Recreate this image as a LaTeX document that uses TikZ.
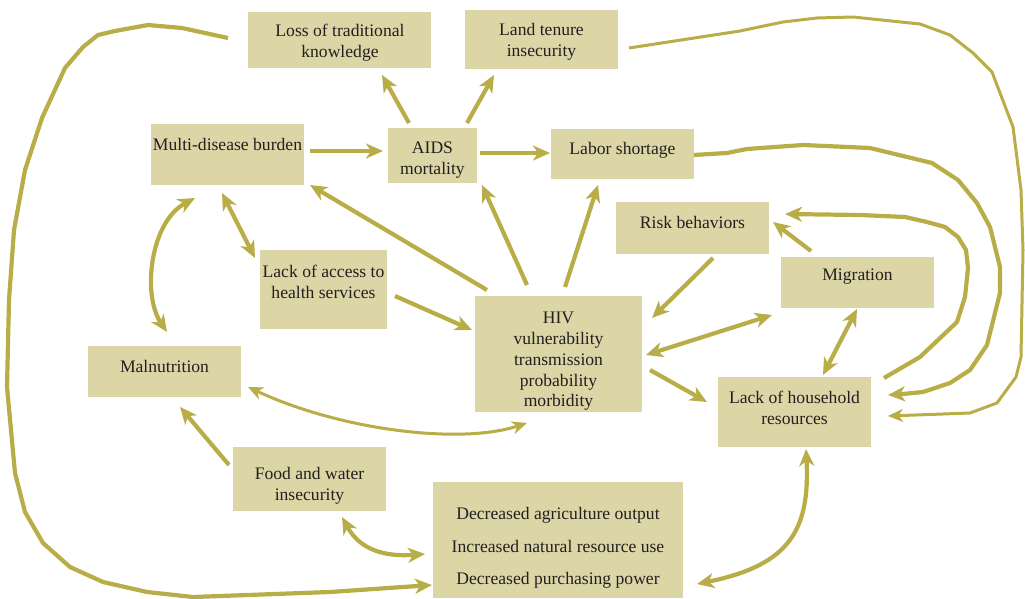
\documentclass[tikz,border=0pt]{standalone}
\usepackage{fontspec}
\setmainfont{Liberation Serif}
\usetikzlibrary{arrows.meta,calc}
\definecolor{boxc}{HTML}{DCD6A6}
\definecolor{arrc}{HTML}{B9AD47}
\definecolor{txtc}{HTML}{231F20}
\begin{document}
\begin{tikzpicture}[x=1pt,y=-1pt,
  box/.style={fill=boxc, draw=none, inner sep=0pt},
  lbl/.style={text=txtc, align=center, font=\fontsize{17.6}{20.8}\selectfont, inner sep=0pt},
  con/.style={draw=arrc, line width=4.2pt, line join=round,
     >={Stealth[length=17pt,width=15pt,inset=5pt]}},
  thin/.style={draw=arrc, line width=3pt, line join=round,
     >={Stealth[length=15pt,width=13pt,inset=4.5pt]}}
]
\useasboundingbox (0,0) rectangle (1025,599);

% boxes
\node[box, minimum width=183pt, minimum height=56pt] (loss) at (339.5,40) {};
\node[box, minimum width=153pt, minimum height=59pt] (land) at (541.5,39.5) {};
\node[box, minimum width=153pt, minimum height=61pt] (mdb) at (227.5,154.5) {};
\node[box, minimum width=89pt, minimum height=55pt] (aids) at (432.5,155.5) {};
\node[box, minimum width=143pt, minimum height=50pt] (labor) at (622.5,154) {};
\node[box, minimum width=153pt, minimum height=52pt] (risk) at (692.5,228) {};
\node[box, minimum width=153pt, minimum height=51pt] (migr) at (857.5,282.5) {};
\node[box, minimum width=127pt, minimum height=79pt] (access) at (323.5,289.5) {};
\node[box, minimum width=167pt, minimum height=116pt] (hiv) at (558.5,354) {};
\node[box, minimum width=153pt, minimum height=51pt] (maln) at (164.5,371.5) {};
\node[box, minimum width=153pt, minimum height=70pt] (lhr) at (794.5,412) {};
\node[box, minimum width=153pt, minimum height=64pt] (food) at (309.5,479) {};
\node[box, minimum width=250pt, minimum height=116pt] (decr) at (558,540) {};

% texts
\node[lbl] (tloss) at (340,43) {Loss of traditional\\knowledge};
\node[lbl] (tland) at (541.5,42) {Land tenure\\insecurity};
\node[lbl] (tmdb) at (227.5,144) {Multi-disease burden};
\node[lbl] (taids) at (432.5,160) {AIDS\\mortality};
\node[lbl] (tlabor) at (622.5,150) {Labor shortage};
\node[lbl] (trisk) at (692.5,222) {Risk behaviors};
\node[lbl] (tmigr) at (857.5,277) {Migration};
\node[lbl] (taccess) at (323.5,282) {Lack of access to\\health services};
\node[lbl] (thiv) at (558.5,361.5) {HIV\\vulnerability\\transmission\\probability\\morbidity};
\node[lbl] (tmaln) at (164.5,366) {Malnutrition};
\node[lbl] (tlhr) at (794.5,407.5) {Lack of household\\resources};
\node[lbl] (tfood) at (309.5,486) {Food and water\\insecurity};
\node[lbl] (tdecr) at (558,548) {Decreased agriculture output\\[11.7pt]Increased natural resource use\\[11.7pt]Decreased purchasing power};

% straight connectors
\draw[con,->] ($(mdb)+(82.5,-3.5)$) -- ($(aids)+(-49.5,-4.5)$);
\draw[con,->] ($(aids)+(47.5,-2.5)$) -- ($(labor)+(-72.5,-1)$);
\draw[con,->] ($(aids)+(-23.5,-32.5)$) -- ($(loss)+(42.5,35)$);
\draw[con,->] ($(aids)+(34.5,-32.5)$) -- ($(land)+(-47.5,35.5)$);
\draw[con,->] ($(hiv)+(-31.5,-69)$) -- ($(aids)+(49.5,29.5)$);
\draw[con,->] ($(hiv)+(6.5,-67)$) -- ($(labor)+(-24.5,31)$);
\draw[con,->] ($(hiv)+(-71.5,-64)$) -- ($(mdb)+(82.5,30.5)$);
\draw[con,->] ($(access)+(71.5,6.5)$) -- ($(hiv)+(-86.5,-24)$);
\draw[con,<->] ($(mdb)+(-5.5,38.5)$) -- ($(access)+(-68.5,-31.5)$);
\draw[con,->] ($(risk)+(20.5,30)$) -- ($(hiv)+(93.5,-36)$);
\draw[con,<->] ($(hiv)+(87.5,1)$) -- ($(migr)+(-85.5,32.5)$);
\draw[con,->] ($(hiv)+(91.5,16)$) -- ($(lhr)+(-87.5,-10)$);
\draw[con,->] ($(migr)+(-46.5,-31.5)$) -- ($(risk)+(80.5,-6)$);
\draw[con,<->] ($(migr)+(-0.5,26.5)$) -- ($(lhr)+(28.5,-37)$);
\draw[con,->] ($(food)+(-80.5,-14)$) -- ($(maln)+(15.5,35.5)$);

% curved connectors
\draw[con,<->] ($(mdb)+(-32.5,43.5)$) .. controls (150,222) and (142,295) .. ($(maln)+(2.5,-39.5)$);
\draw[con,<->] ($(food)+(32.5,38)$) .. controls (360,550) and (385,557) .. ($(decr)+(-133,14)$);
\draw[con,<->] ($(lhr)+(11.5,37)$) .. controls (810,530) and (790,565) .. ($(decr)+(139,44)$);
\draw[thin,<->] ($(maln)+(83.5,15.5)$) .. controls (340,430) and (460,445) .. ($(hiv)+(-31.5,69)$);

% long polylines
\draw[con,->] ($(lhr)+(89.5,-34)$) -- (920,357) -- (938,340) -- (957,322) -- (965,297) -- (968,268) -- (966,250) -- (958,237) -- (945,227) -- (927,222) -- (905,217) -- (860,215) -- ($(risk)+(92.5,-14)$);
\draw[con,->] ($(labor)+(71.5,1)$) -- (727,153) -- (747,149) -- (803,145) -- (870,148) -- (932,163) -- (958,180) -- (977,203) -- (990,227) -- (1000,267) -- (1000,293) -- (987,345) -- (970,370) -- (950,383) -- (923,392) -- (903,394) -- ($(lhr)+(93.5,-17)$);
\draw[thin,->] ($(land)+(87.5,8.5)$) -- (740,31) -- (783,22) -- (817,18) -- (853,17) -- (920,24) -- (950,35) -- (973,53) -- (992,72) -- (1013,127) -- (1021,190) -- (1023,250) -- (1021,357) -- (1016,377) -- (997,403) -- (970,413) -- (943,414) -- ($(lhr)+(93.5,4)$);
\draw[con,->] ($(loss)+(-111.5,-2)$) -- (182,28) -- (148,25) -- (115,31) -- (98,35) -- (83,47) -- (65,68) -- (42,118) -- (25,170) -- (14,230) -- (9,300) -- (7,387) -- (15,473) -- (25,512) -- (43,543) -- (70,567) -- (103,582) -- (147,592) -- (193,597) -- (330,592) -- ($(decr)+(-126,45)$);
\end{tikzpicture}
\end{document}
